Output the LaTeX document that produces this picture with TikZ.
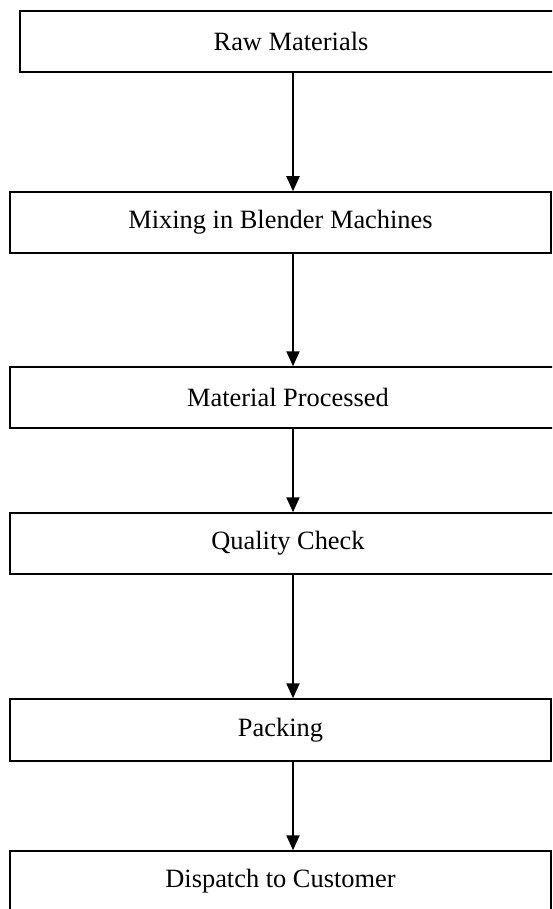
\documentclass[tikz,border=0pt]{standalone}
\usepackage{fontspec}
\setmainfont{Liberation Serif}
\usetikzlibrary{positioning,shapes,arrows.meta}

\tikzset{
    processBox/.style={draw, line width=1.5pt, rectangle, inner sep=0pt,
        minimum height=61pt, font=\fontsize{26.4}{30}\selectfont},
    flowArrow/.style={line width=2pt, -{Triangle[length=15pt,width=13pt]}}
}

\begin{document}
\begin{tikzpicture}[x=1pt, y=-1pt]
    \useasboundingbox (0,0) rectangle (552,909);
    \clip (0,0) rectangle (552,909);

    % steps of the process
    \node[processBox, minimum width=542pt] (raw) at (291,41.5) {Raw Materials};
    \node[processBox, minimum width=541pt] (mixing) at (280.5,222.5) {Mixing in Blender Machines};
    \node[processBox, minimum width=556pt] (processed) at (288,397.5) {Material Processed};
    \node[processBox, minimum width=556pt] (quality) at (288,543.5) {Quality Check};
    \node[processBox, minimum width=541pt, minimum height=62pt] (packing) at (280.5,730) {Packing};
    \node[processBox, minimum width=541pt] (dispatch) at (280.5,881.5) {Dispatch to Customer};

    % arrows
    \coordinate (axis) at (293,0);
    \draw[flowArrow] (raw.south -| axis) -- (mixing.north -| axis);
    \draw[flowArrow] (mixing.south -| axis) -- (processed.north -| axis);
    \draw[flowArrow] (processed.south -| axis) -- (quality.north -| axis);
    \draw[flowArrow] (quality.south -| axis) -- (packing.north -| axis);
    \draw[flowArrow] (packing.south -| axis) -- (dispatch.north -| axis);

\end{tikzpicture}
\end{document}
